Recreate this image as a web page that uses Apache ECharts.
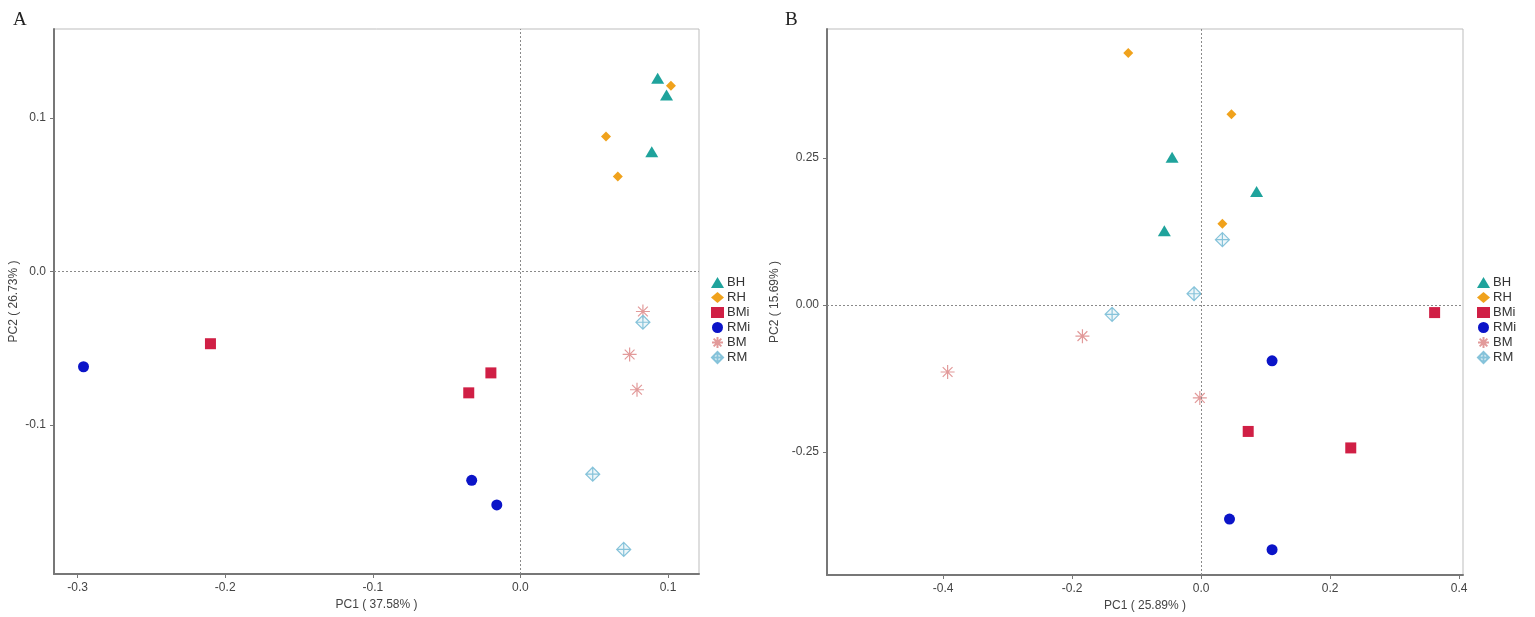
<!DOCTYPE html>
<html>
<head>
<meta charset="utf-8">
<script src="https://cdn.jsdelivr.net/npm/echarts@6/dist/echarts.min.js"></script>
<style>
html, body { margin: 0; padding: 0; background: #fff; }
#main { width: 1535px; height: 617px; }
</style>
</head>
<body>
<div id="main"></div>
<script>
// groups
var groups = ['BH', 'RH', 'BMi', 'RMi', 'BM', 'RM'];

// panel A (PC1 37.58%, PC2 26.73%)
var a_BH  = [[0.093, 0.126], [0.099, 0.115], [0.089, 0.078]];
var a_RH  = [[0.102, 0.121], [0.058, 0.088], [0.066, 0.062]];
var a_BMi = [[-0.210, -0.047], [-0.020, -0.066], [-0.035, -0.079]];
var a_RMi = [[-0.296, -0.062], [-0.033, -0.136], [-0.016, -0.152]];
var a_BM  = [[0.083, -0.026], [0.074, -0.054], [0.079, -0.077]];
var a_RM  = [[0.083, -0.033], [0.049, -0.132], [0.070, -0.181]];

// panel B (PC1 25.89%, PC2 15.69%)
var b_BH  = [[-0.045, 0.251], [0.086, 0.193], [-0.057, 0.126]];
var b_RH  = [[-0.113, 0.428], [0.047, 0.324], [0.033, 0.138]];
var b_BMi = [[0.362, -0.013], [0.073, -0.215], [0.232, -0.243]];
var b_RMi = [[0.110, -0.095], [0.044, -0.364], [0.110, -0.416]];
var b_BM  = [[-0.393, -0.114], [-0.184, -0.053], [-0.002, -0.158]];
var b_RM  = [[0.033, 0.111], [-0.011, 0.019], [-0.138, -0.016]];

// tick labels
var a_xTicks = [-0.3, -0.2, -0.1, 0.0, 0.1];
var a_yTicks = [-0.1, 0.0, 0.1];
var b_xTicks = [-0.4, -0.2, 0.0, 0.2, 0.4];
var b_yTicks = [-0.25, 0.00, 0.25];

var colors = {
    BH: '#1fa39c', RH: '#f0a21c', BMi: '#d01f45',
    RMi: '#0b14c8', BM: '#e29a9a', RM: '#86c3da'
};
var symbols = {
    BH: 'triangle',
    RH: 'diamond',
    BMi: 'rect',
    RMi: 'circle',
    BM: 'path://M0 -10 L0 10 M-10 0 L10 0 M-7 -7 L7 7 M-7 7 L7 -7',
    RM: 'path://M0 -10 L10 0 L0 10 L-10 0 Z M0 -10 L0 10 M-10 0 L10 0'
};
var sizes = { BH: [13, 11], RH: 10, BMi: 11, RMi: 11, BM: 14, RM: 14 };

var font = 'Liberation Sans, Arial, sans-serif';

function makeSeries(name, data, idx) {
    var outline = (name == 'BM' || name == 'RM');
    var s = {
        name: name,
        type: 'scatter',
        xAxisIndex: idx,
        yAxisIndex: idx,
        data: data,
        symbol: symbols[name],
        symbolSize: sizes[name],
        itemStyle: outline ? {
            color: name == 'RM' ? 'rgba(134,195,218,0.15)' : 'rgba(0,0,0,0)',
            borderColor: colors[name],
            borderWidth: 1.2,
            opacity: 1
        } : { color: colors[name], opacity: 1 },
        emphasis: { disabled: true },
        z: 3
    };
    return s;
}

function zeroLines(idx) {
    return {
        type: 'scatter',
        xAxisIndex: idx,
        yAxisIndex: idx,
        data: [],
        silent: true,
        markLine: {
            silent: true,
            symbol: 'none',
            label: { show: false },
            lineStyle: { color: '#8a8a8a', type: [2, 2], width: 1 },
            data: [{ xAxis: 0 }, { yAxis: 0 }],
            animation: false
        },
        z: 1
    };
}

function xAxis(idx, min, max, ticks, name) {
    return {
        type: 'value', gridIndex: idx, min: min, max: max,
        name: name, nameLocation: 'middle', nameGap: 23,
        nameTextStyle: { fontFamily: font, fontSize: 12, color: '#444' },
        splitLine: { show: false },
        axisLine: { onZero: false, lineStyle: { color: '#777', width: 2 } },
        axisTick: { show: true, length: 4, lineStyle: { color: '#777' }, customValues: ticks },
        axisLabel: {
            fontFamily: font, fontSize: 12, color: '#444', margin: 8,
            customValues: ticks,
            formatter: function (v) { return v.toFixed(1); }
        }
    };
}

function yAxis(idx, min, max, ticks, name, digits, gap) {
    return {
        type: 'value', gridIndex: idx, min: min, max: max,
        name: name, nameLocation: 'middle', nameGap: gap, nameRotate: 90,
        nameTextStyle: { fontFamily: font, fontSize: 12, color: '#444' },
        splitLine: { show: false },
        axisLine: { onZero: false, lineStyle: { color: '#777', width: 2 } },
        axisTick: { show: true, length: 4, lineStyle: { color: '#777' }, customValues: ticks },
        axisLabel: {
            fontFamily: font, fontSize: 12, color: '#444', margin: 8,
            customValues: ticks,
            formatter: function (v) { return v.toFixed(digits); }
        }
    };
}

function legend(left) {
    return {
        orient: 'vertical', left: left, top: 271,
        data: groups, itemWidth: 13, itemHeight: 11, itemGap: 2,
        selectedMode: false,
        textStyle: { fontFamily: font, fontSize: 13, color: '#333', padding: [0, 0, 0, -2] }
    };
}

var series = [];
series.push(zeroLines(0));
series.push(zeroLines(1));
var aData = [a_BH, a_RH, a_BMi, a_RMi, a_BM, a_RM];
var bData = [b_BH, b_RH, b_BMi, b_RMi, b_BM, b_RM];
for (var i = 0; i < groups.length; i++) {
    series.push(makeSeries(groups[i], aData[i], 0));
    series.push(makeSeries(groups[i], bData[i], 1));
}

var myChart = echarts.init(document.getElementById('main'));
myChart.setOption({
    animation: false,
    backgroundColor: '#fff',
    title: [
        { text: 'A', left: 8, top: 6, textStyle: { fontFamily: 'Liberation Serif, serif', fontSize: 19, fontWeight: 'normal', color: '#222' } },
        { text: 'B', left: 780, top: 6, textStyle: { fontFamily: 'Liberation Serif, serif', fontSize: 19, fontWeight: 'normal', color: '#222' } }
    ],
    grid: [
        { left: 54, top: 29, width: 645, height: 545, show: true, borderColor: '#bdbdbd', borderWidth: 1 },
        { left: 827, top: 29, width: 636, height: 546, show: true, borderColor: '#bdbdbd', borderWidth: 1 }
    ],
    xAxis: [
        xAxis(0, -0.316, 0.121, a_xTicks, 'PC1 ( 37.58% )'),
        xAxis(1, -0.580, 0.406, b_xTicks, 'PC1 ( 25.89% )')
    ],
    yAxis: [
        yAxis(0, -0.197, 0.158, a_yTicks, 'PC2 ( 26.73% )', 1, 34),
        yAxis(1, -0.459, 0.469, b_yTicks, 'PC2 ( 15.69% )', 2, 46)
    ],
    legend: [legend(706), legend(1472)],
    series: series
});
</script>
</body>
</html>
